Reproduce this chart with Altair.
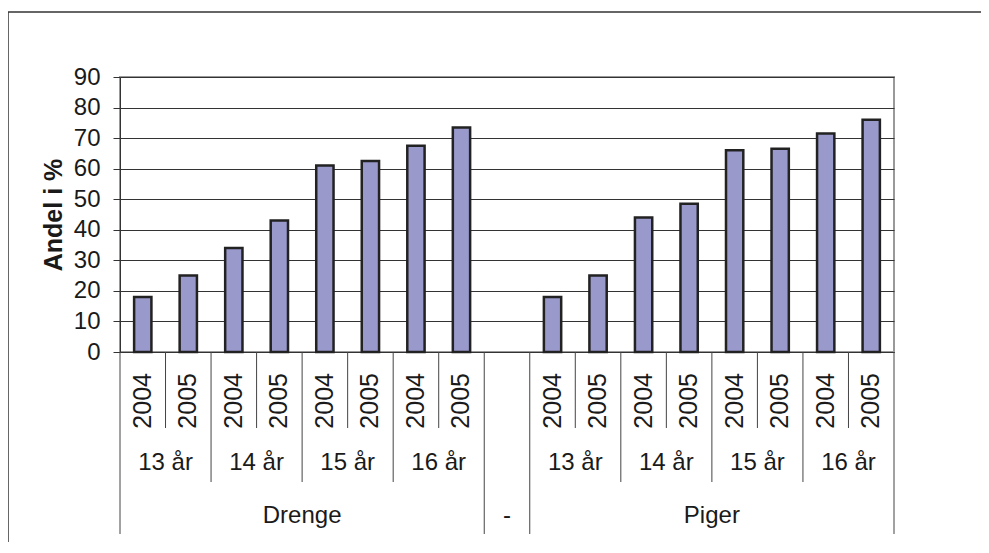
import altair as alt
import pandas as pd

# ---- data ----
groups = ["Drenge", "Piger"]
ages = ["13 år", "14 år", "15 år", "16 år"]
years = ["2004", "2005"]
drenge_values = [18, 25, 34, 43, 61, 62.5, 67.5, 73.5]
piger_values = [18, 25, 44, 48.5, 66, 66.5, 71.5, 76]
blank_label = "-"
y_ticks = [0, 10, 20, 30, 40, 50, 60, 70, 80, 90]

FONT = "Liberation Sans"
FS = 24
TXT = "#1a1a1a"

# ---- build slot table ----
keys = []
rows = []
for g, vals in zip(groups, [drenge_values, piger_values]):
    i = 0
    for a in ages:
        for y in years:
            k = f"{g}|{a}|{y}"
            keys.append(k)
            rows.append({"key": k, "group": g, "age": a, "year": y, "value": vals[i]})
            i += 1
    if g == groups[0]:
        keys.append(blank_label)
bars = pd.DataFrame(rows)

xscale = alt.Scale(domain=keys, paddingInner=0, paddingOuter=0)
xaxis = alt.Axis(labels=False, ticks=False, domain=True, grid=False, title=None,
                 domainColor="#333333", domainWidth=1)

W, H = 774, 275

bar_layer = alt.Chart(bars).mark_bar(
    width=alt.RelativeBandSize(0.38), fill="#9999CC", stroke="#222222", strokeWidth=2.5
).encode(
    x=alt.X("key:N", scale=xscale, axis=xaxis),
    y=alt.Y("value:Q", scale=alt.Scale(domain=[0, 90], nice=False),
            axis=alt.Axis(values=y_ticks, title="Andel i %", grid=True,
                          gridColor="#333333", gridWidth=1,
                          domainColor="#333333", tickColor="#333333", tickSize=7,
                          labelFontSize=FS, labelFont=FONT, labelColor=TXT, labelPadding=13,
                          titleFont=FONT, titleFontSize=25, titleFontWeight="bold",
                          titleColor=TXT, titleAngle=270, titleX=-67, titleY=H / 2,
                          titleAlign="center", titleBaseline="middle")),
)

# separator lines below the axis
year_sep = [r["key"] for r in rows if r["year"] == years[1]]
age_sep = [r["key"] for r in rows if r["year"] == years[0] and r["age"] != ages[0]]
group_sep = [keys[0], blank_label, keys[keys.index(blank_label) + 1]]


def sep_layer(klist, bottom, band=0.0):
    return alt.Chart(pd.DataFrame({"key": klist})).mark_rule(
        color="#444444", strokeWidth=1
    ).encode(
        x=alt.X("key:N", scale=xscale, bandPosition=band),
        y=alt.value(H),
        y2=alt.value(bottom),
    )


seps = [
    sep_layer(year_sep, H + 76),
    sep_layer(age_sep, H + 130),
    sep_layer(group_sep, H + 182),
    sep_layer([keys[-1]], H + 182, band=1.0),
]

year_text = alt.Chart(bars).mark_text(
    angle=270, align="right", baseline="middle", fontSize=25, font=FONT, color=TXT
).encode(
    x=alt.X("key:N", scale=xscale, bandPosition=0.5),
    y=alt.value(H + 21),
    text="year:N",
)

age_df = bars[bars["year"] == years[0]]
age_text = alt.Chart(age_df).mark_text(
    align="center", baseline="middle", fontSize=FS, font=FONT, color=TXT
).encode(
    x=alt.X("key:N", scale=xscale, bandPosition=1.0),
    y=alt.value(H + 111),
    text="age:N",
)

grp_df = pd.DataFrame({
    "key": [rows[3]["key"], rows[11]["key"]],
    "label": groups,
})
grp_text = alt.Chart(grp_df).mark_text(
    align="center", baseline="middle", fontSize=FS, font=FONT, color=TXT
).encode(
    x=alt.X("key:N", scale=xscale, bandPosition=1.0),
    y=alt.value(H + 164),
    text="label:N",
)
blank_text = alt.Chart(pd.DataFrame({"key": [blank_label]})).mark_text(
    align="center", baseline="middle", fontSize=FS, font=FONT, color=TXT
).encode(
    x=alt.X("key:N", scale=xscale, bandPosition=0.5),
    y=alt.value(H + 164),
    text="key:N",
)

# outer chart frame (cropped at right and bottom in the reference)
dummy = pd.DataFrame({"d": [0]})
frame_top = alt.Chart(dummy).mark_rule(color="#333333", strokeWidth=1.5).encode(
    x=alt.value(-112), x2=alt.value(W + 120), y=alt.value(-65)
)
frame_left = alt.Chart(dummy).mark_rule(color="#333333", strokeWidth=1.5).encode(
    x=alt.value(-112), y=alt.value(-65), y2=alt.value(H + 200)
)

chart = alt.layer(
    bar_layer, *seps, year_text, age_text, grp_text, blank_text, frame_top, frame_left
).properties(
    width=W, height=H,
    autosize=alt.AutoSizeParams(type="none"),
    padding={"left": 112, "top": 69, "right": 87, "bottom": 190},
    background="white",
).configure_view(
    stroke="#999999", strokeWidth=2
)

chart.save("out.html", embed_options={"renderer": "svg", "actions": False})
